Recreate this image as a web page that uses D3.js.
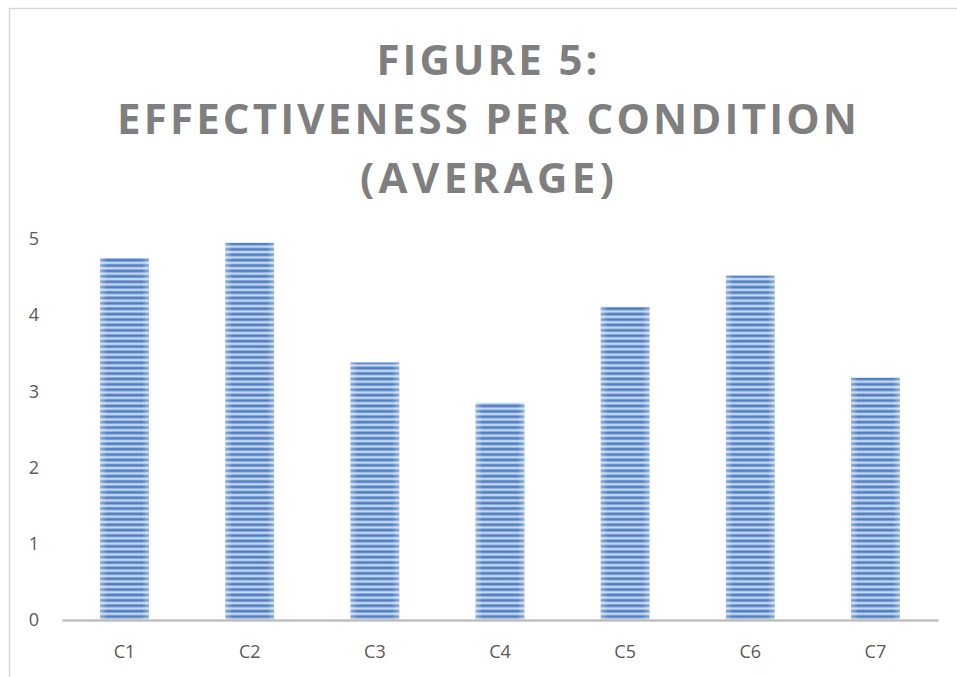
<!DOCTYPE html>
<html>
<head>
<meta charset="utf-8">
<script src="https://cdn.jsdelivr.net/npm/d3@7/dist/d3.min.js"></script>
<style>
  html, body { margin: 0; padding: 0; background: #ffffff; }
  svg { display: block; }
</style>
</head>
<body>
<script>
// Average effectiveness score for each condition
const categories = ["C1", "C2", "C3", "C4", "C5", "C6", "C7"];
const averages = [4.75, 4.95, 3.38, 2.85, 4.11, 4.52, 3.18];
const yTicks = [0, 1, 2, 3, 4, 5];
const titleLines = ["FIGURE 5:", "EFFECTIVENESS PER CONDITION", "(AVERAGE)"];

const W = 957, H = 677;
const plot = { left: 62, right: 938, top: 239, bottom: 620 };

const svg = d3.select("body").append("svg")
  .attr("width", W).attr("height", H);

// Striped fill for the bars
const defs = svg.append("defs");
const pat = defs.append("pattern")
  .attr("id", "stripes")
  .attr("patternUnits", "userSpaceOnUse")
  .attr("width", 8).attr("height", 5.4);
pat.append("rect").attr("width", 8).attr("height", 5.4).attr("fill", "#86a9da");
pat.append("rect").attr("y", 0).attr("width", 8).attr("height", 1.9).attr("fill", "#4f7fc2");
pat.append("rect").attr("y", 2.9).attr("width", 8).attr("height", 1.5).attr("fill", "#d0dff3");

// Soft lighter edges on each bar
const edge = defs.append("linearGradient").attr("id", "edgeGlow")
  .attr("x1", "0").attr("x2", "1").attr("y1", "0").attr("y2", "0");
edge.append("stop").attr("offset", "0").attr("stop-color", "#ffffff").attr("stop-opacity", 0.35);
edge.append("stop").attr("offset", "0.15").attr("stop-color", "#ffffff").attr("stop-opacity", 0);
edge.append("stop").attr("offset", "0.85").attr("stop-color", "#ffffff").attr("stop-opacity", 0);
edge.append("stop").attr("offset", "1").attr("stop-color", "#ffffff").attr("stop-opacity", 0.35);

// Chart frame
svg.append("rect")
  .attr("x", 9.5).attr("y", 8.5)
  .attr("width", 970).attr("height", 700)
  .attr("fill", "none").attr("stroke", "#d9d9d9").attr("stroke-width", 1.5);

// Title
const titleY = [75, 134, 193];
const titleW = [221, 740, 254];
svg.append("g").selectAll("text")
  .data(titleLines)
  .join("text")
  .attr("x", 487)
  .attr("y", (d, i) => titleY[i])
  .attr("text-anchor", "middle")
  .attr("font-family", "'Open Sans', 'DejaVu Sans', sans-serif")
  .attr("font-weight", 700)
  .attr("font-size", 42)
  .attr("fill", "#7f7f7f")
  .attr("textLength", (d, i) => titleW[i])
  .attr("lengthAdjust", "spacing")
  .text(d => d);

// Scales
const x = d3.scaleBand()
  .domain(categories)
  .range([plot.left, plot.right])
  .paddingInner(0.61)
  .paddingOuter(0.305);

const y = d3.scaleLinear()
  .domain([0, 5])
  .range([plot.bottom, plot.top]);

// Bars
const bars = svg.append("g");
bars.selectAll("rect.bar")
  .data(averages)
  .join("rect")
  .attr("class", "bar")
  .attr("x", (d, i) => x(categories[i]))
  .attr("y", d => y(d))
  .attr("width", x.bandwidth())
  .attr("height", d => y(0) - y(d))
  .attr("fill", "url(#stripes)");
bars.selectAll("rect.glow")
  .data(averages)
  .join("rect")
  .attr("class", "glow")
  .attr("x", (d, i) => x(categories[i]))
  .attr("y", d => y(d))
  .attr("width", x.bandwidth())
  .attr("height", d => y(0) - y(d))
  .attr("fill", "url(#edgeGlow)");

// Y axis labels (no axis line)
const yAxis = d3.axisLeft(y).tickValues(yTicks).tickSize(0).tickPadding(0).tickFormat(d3.format("d"));
const yg = svg.append("g").attr("transform", "translate(39,0)").call(yAxis);
yg.select(".domain").remove();
yg.selectAll("text")
  .attr("font-family", "'Open Sans', 'DejaVu Sans', sans-serif")
  .attr("font-size", 18)
  .attr("fill", "#595959");

// X axis with baseline
const xAxis = d3.axisBottom(x).tickSize(0).tickPadding(25);
const xg = svg.append("g").attr("transform", `translate(0,${plot.bottom})`).call(xAxis);
xg.select(".domain").attr("stroke", "#bfbfbf").attr("stroke-width", 2.5);
xg.selectAll("text")
  .attr("font-family", "'Open Sans', 'DejaVu Sans', sans-serif")
  .attr("font-size", 18)
  .attr("fill", "#595959");
</script>
</body>
</html>
